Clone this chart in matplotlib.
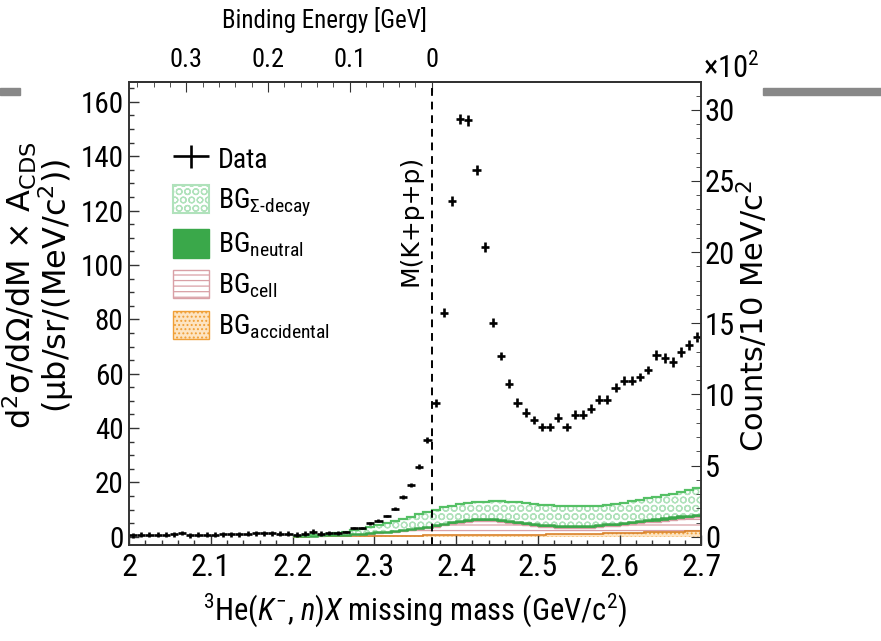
import matplotlib
matplotlib.use("Agg")
import matplotlib.pyplot as plt
import numpy as np
from matplotlib import font_manager
from matplotlib.patches import Patch, Rectangle
from matplotlib.ticker import MultipleLocator, FixedLocator
from matplotlib.container import ErrorbarContainer
from matplotlib.legend_handler import HandlerErrorbar

# --- binning / constants ---
mass_min, mass_max, bin_w = 2.0, 2.7, 0.01
bg_start = 2.2
threshold = 2.37          # M(K+p+p) in GeV/c^2
counts_per_xs = 0.191     # right axis (x10^2 counts) per left axis unit

# --- data: cross section per 10 MeV bin, 2.005 ... 2.695 ---
data_y = [0.6, 0.7, 0.8, 0.8, 0.7, 1.0, 1.4, 0.5, 0.7, 0.8,
          0.8, 0.9, 0.9, 1.0, 1.1, 1.3, 1.3, 1.3, 1.2, 1.1,
          0.8, 1.2, 1.8, 1.2, 1.4, 1.5, 1.8, 3.2, 3.2, 5.0,
          5.9, 7.7, 10.3, 14.6, 19.1, 25.8, 35.7, 49.3, 82.4, 123.5,
          153.7, 153.2, 134.9, 106.6, 78.7, 66.5, 56.3, 49.3, 45.6, 43.0,
          40.4, 40.4, 43.8, 40.4, 44.9, 44.9, 47.1, 50.4, 50.4, 54.8,
          57.4, 57.4, 58.8, 61.4, 66.9, 65.8, 64.3, 68.0, 70.6, 73.5]
data_err = [0.9, 0.9, 0.9, 0.9, 0.9, 0.9, 0.9, 0.9, 0.9, 0.9,
            0.9, 0.9, 0.9, 0.9, 0.9, 0.9, 0.9, 0.9, 0.9, 0.9,
            0.9, 0.9, 0.9, 0.9, 0.9, 0.8, 0.5, 0.5, 0.5, 0.5,
            0.5, 0.5, 0.6, 0.6, 0.8, 1.0, 1.2, 1.5, 1.7, 1.9,
            2.0, 2.0, 1.9, 1.8, 1.7, 1.6, 1.6, 1.6, 1.6, 1.6,
            1.6, 1.6, 1.6, 1.6, 1.6, 1.6, 1.6, 1.6, 1.6, 1.6,
            1.6, 1.6, 1.6, 1.6, 1.7, 1.7, 1.7, 1.7, 1.7, 1.7]

# --- stacked backgrounds (cumulative tops), bins 2.205 ... 2.695 ---
acc_top = [0.1, 0.1, 0.15, 0.15, 0.2, 0.2, 0.25, 0.25, 0.3, 0.3,
           0.35, 0.35, 0.4, 0.4, 0.45, 0.45, 0.5, 0.5, 0.55, 0.55,
           0.6, 0.6, 0.65, 0.65, 0.7, 0.7, 0.75, 0.75, 0.8, 0.8,
           0.85, 0.9, 0.95, 1.0, 1.05, 1.1, 1.15, 1.2, 1.3, 1.35,
           1.4, 1.5, 1.55, 1.6, 1.7, 1.75, 1.8, 1.9, 2.0, 2.1]
cell_top = [0.2, 0.25, 0.3, 0.4, 0.5, 0.6, 0.7, 0.85, 1.0, 1.2,
            1.4, 1.6, 1.9, 2.2, 2.5, 2.8, 3.2, 3.7, 4.2, 4.7,
            5.2, 5.6, 5.8, 5.8, 5.7, 5.4, 5.0, 4.6, 4.3, 4.0,
            3.7, 3.5, 3.4, 3.3, 3.3, 3.3, 3.4, 3.6, 3.8, 4.1,
            4.4, 4.7, 5.0, 5.3, 5.6, 5.9, 6.2, 6.5, 6.8, 7.2]
neutral_top = [0.25, 0.3, 0.4, 0.5, 0.6, 0.75, 0.85, 1.05, 1.2, 1.45,
               1.7, 1.9, 2.25, 2.6, 2.95, 3.3, 3.7, 4.25, 4.8, 5.3,
               5.85, 6.3, 6.5, 6.5, 6.4, 6.1, 5.7, 5.3, 5.0, 4.7,
               4.4, 4.2, 4.1, 4.0, 4.05, 4.05, 4.15, 4.4, 4.6, 4.9,
               5.25, 5.55, 5.9, 6.2, 6.5, 6.85, 7.15, 7.5, 7.8, 8.2]
sigma_top = [0.3, 0.4, 0.55, 0.75, 1.0, 1.3, 1.8, 2.4, 3.0, 3.7,
             4.4, 5.1, 5.8, 6.6, 7.4, 8.3, 9.2, 10.0, 10.8, 11.5,
             12.0, 12.4, 12.7, 12.9, 13.0, 13.0, 12.9, 12.7, 12.5, 12.2,
             11.8, 11.6, 11.4, 11.3, 11.2, 11.2, 11.3, 11.5, 11.8, 12.2,
             12.6, 13.1, 13.6, 14.1, 14.7, 15.3, 15.9, 16.6, 17.3, 18.0]

# --- ticks / labels ---
x_ticks = [2.0, 2.1, 2.2, 2.3, 2.4, 2.5, 2.6, 2.7]
x_ticklabels = ['2', '2.1', '2.2', '2.3', '2.4', '2.5', '2.6', '2.7']
y_ticks = [0, 20, 40, 60, 80, 100, 120, 140, 160]
r_ticks = [0, 5, 10, 15, 20, 25, 30]
be_ticks = [0, 0.1, 0.2, 0.3]
be_ticklabels = ['0', '0.1', '0.2', '0.3']
legend_labels = ['Data', r'BG$_{\Sigma\text{-decay}}$', r'BG$_{\mathrm{neutral}}$',
                 r'BG$_{\mathrm{cell}}$', r'BG$_{\mathrm{accidental}}$']

# colours
c_sigma, c_sigma_h = '#55c065', '#b0e2bb'
c_neutral = '#3aa84a'
c_cell = '#d9a0a6'
c_acc, c_acc_face = '#f0a038', '#fde4c2'

# fonts: a narrow sans for horizontal text if there is one
installed = {f.name for f in font_manager.fontManager.ttflist}
narrow = 'Liberation Sans'
for cand in ['Liberation Sans Narrow', 'Roboto Condensed']:
    if cand in installed:
        narrow = cand
        break
plt.rcParams['font.family'] = [narrow, 'DejaVu Sans']
plt.rcParams['mathtext.fontset'] = 'custom'
plt.rcParams['mathtext.rm'] = narrow
plt.rcParams['mathtext.it'] = narrow + ':italic'
plt.rcParams['mathtext.bf'] = narrow + ':bold'
plt.rcParams['hatch.linewidth'] = 0.9

fig = plt.figure(figsize=(8.81, 6.41), dpi=100)
ax = fig.add_axes([0.1464, 0.1498, 0.6498, 0.7223])

edges = np.linspace(mass_min, mass_max, len(data_y) + 1)
centers = 0.5 * (edges[:-1] + edges[1:])
bg_edges = np.linspace(bg_start, mass_max, len(sigma_top) + 1)

# stacked background fills
ax.stairs(acc_top, bg_edges, baseline=0, fill=True, facecolor=c_acc_face,
          edgecolor=c_acc, hatch='....', lw=0, zorder=1)
ax.stairs(cell_top, bg_edges, baseline=acc_top, fill=True, facecolor='white',
          edgecolor=c_cell, hatch='---', lw=0, zorder=1)
ax.stairs(neutral_top, bg_edges, baseline=cell_top, fill=True, color=c_neutral,
          lw=0, zorder=1)
ax.stairs(sigma_top, bg_edges, baseline=neutral_top, fill=True, facecolor='none',
          edgecolor=c_sigma_h, hatch='OO', lw=0, zorder=1)
ax.stairs(acc_top, bg_edges, baseline=None, color='#d9822a', lw=1.2, zorder=2)
ax.stairs(cell_top, bg_edges, baseline=None, color=c_cell, lw=1.0, zorder=2)
ax.stairs(neutral_top, bg_edges, baseline=None, color=c_neutral, lw=1.8, zorder=2)
ax.stairs(sigma_top, bg_edges, baseline=None, color=c_sigma, lw=1.6, zorder=2)

# data
eb = ax.errorbar(centers, data_y, xerr=bin_w / 2, yerr=data_err, fmt='none',
                 ecolor='black', elinewidth=1.9, capsize=0, zorder=4)

# threshold line
ax.axvline(threshold, color='black', ls=(0, (4, 3)), lw=1.4, zorder=3)
ax.text(2.3447, 116.5, 'M(K+p+p)', rotation=90, ha='center', va='center',
        fontsize=18, family='DejaVu Sans')

# axes ranges
ax.set_xlim(mass_min, mass_max)
ax.set_ylim(-3, 167.3)
ax.set_xticks(x_ticks, x_ticklabels)
ax.set_yticks(y_ticks)
ax.xaxis.set_minor_locator(MultipleLocator(0.02))
ax.yaxis.set_minor_locator(MultipleLocator(5))
ax.tick_params(which='both', direction='in', color='#333333', right=False, top=False)
ax.tick_params(which='major', length=7.2, width=1.0)
ax.tick_params(which='minor', length=3.6, width=1.0)
ax.tick_params(axis='x', labelsize=23, pad=6)
ax.tick_params(axis='y', labelsize=21, pad=4)
for s in ax.spines.values():
    s.set_color('#333333')
    s.set_linewidth(1.2)

ax.set_xlabel(r'$^{3}$He($K^{-}$, $n$)$X$ missing mass (GeV/c$^{2}$)', fontsize=22)
ax.xaxis.set_label_coords(0.5, -0.14, transform=ax.transAxes)
ax.xaxis.label.set_va('center')

ax.set_ylabel('d$^{2}$σ/dΩ/dM × A$_{\\mathrm{CDS}}$\n(μb/sr/(MeV/c$^{2}$))',
              fontsize=23, family='DejaVu Sans', math_fontfamily='dejavusans',
              linespacing=0.9)
ax.yaxis.set_label_coords(-0.158, 0.56, transform=ax.transAxes)
ax.yaxis.label.set_va('center')

# right axis: counts
ax2 = ax.twinx()
ax2.set_ylim(-3 * counts_per_xs, 167.3 * counts_per_xs)
ax2.set_yticks(r_ticks)
ax2.yaxis.set_minor_locator(MultipleLocator(1))
ax2.tick_params(which='both', direction='in', color='#333333')
ax2.tick_params(which='major', length=7.2, labelsize=22, pad=2.5)
ax2.tick_params(which='minor', length=3.6)
for s in ax2.spines.values():
    s.set_color('#333333')
    s.set_linewidth(1.2)
ax2.set_ylabel('Counts/10 MeV/c$^{2}$', fontsize=22, family='DejaVu Sans',
               math_fontfamily='dejavusans', rotation=90)
ax2.yaxis.set_label_coords(1.09, 0.495, transform=ax.transAxes)
ax2.yaxis.label.set_va('center')
ax2.text(1.003, 1.03, '×10$^{2}$', transform=ax.transAxes, fontsize=22,
         ha='left', va='center')

# top axis: binding energy
secax = ax.secondary_xaxis('top', functions=(lambda m: threshold - m,
                                             lambda b: threshold - b))
secax.set_xticks(be_ticks, be_ticklabels)
secax.xaxis.set_minor_locator(FixedLocator(np.arange(0.02, 0.37, 0.02)))
secax.tick_params(which='both', direction='in', color='#333333')
secax.tick_params(which='major', length=7.2, labelsize=19, pad=7)
secax.tick_params(which='minor', length=3.6)
secax.spines['top'].set_color('#333333')
secax.spines['top'].set_linewidth(1.2)
secax.set_xlabel('Binding Energy [GeV]', fontsize=18)
secax.xaxis.set_label_coords(0.342, 1.134, transform=ax.transAxes)
secax.xaxis.label.set_va('center')

# legend
handles = [eb,
           Patch(facecolor='white', edgecolor=c_sigma_h, hatch='OO', lw=1.5),
           Patch(facecolor=c_neutral, edgecolor=c_neutral, lw=1.0),
           Patch(facecolor='white', edgecolor=c_cell, hatch='---', lw=1.0),
           Patch(facecolor=c_acc_face, edgecolor=c_acc, hatch='....', lw=1.0)]
ax.legend(handles, legend_labels, loc='upper left', bbox_to_anchor=(0.077, 0.865),
          frameon=False, fontsize=20, handlelength=1.3, handleheight=1.2,
          handletextpad=0.3, labelspacing=0.38, borderpad=0, borderaxespad=0,
          handler_map={ErrorbarContainer: HandlerErrorbar(xerr_size=0.65, yerr_size=0.42)})

# grey page rules left and right of the frame
fig.patches.append(Rectangle((0, 1 - 95 / 641), 20 / 881, 7 / 641,
                             transform=fig.transFigure, color='#888888'))
fig.patches.append(Rectangle((763 / 881, 1 - 95 / 641), 118 / 881, 7 / 641,
                             transform=fig.transFigure, color='#888888'))

fig.savefig('out.png', dpi=100)
